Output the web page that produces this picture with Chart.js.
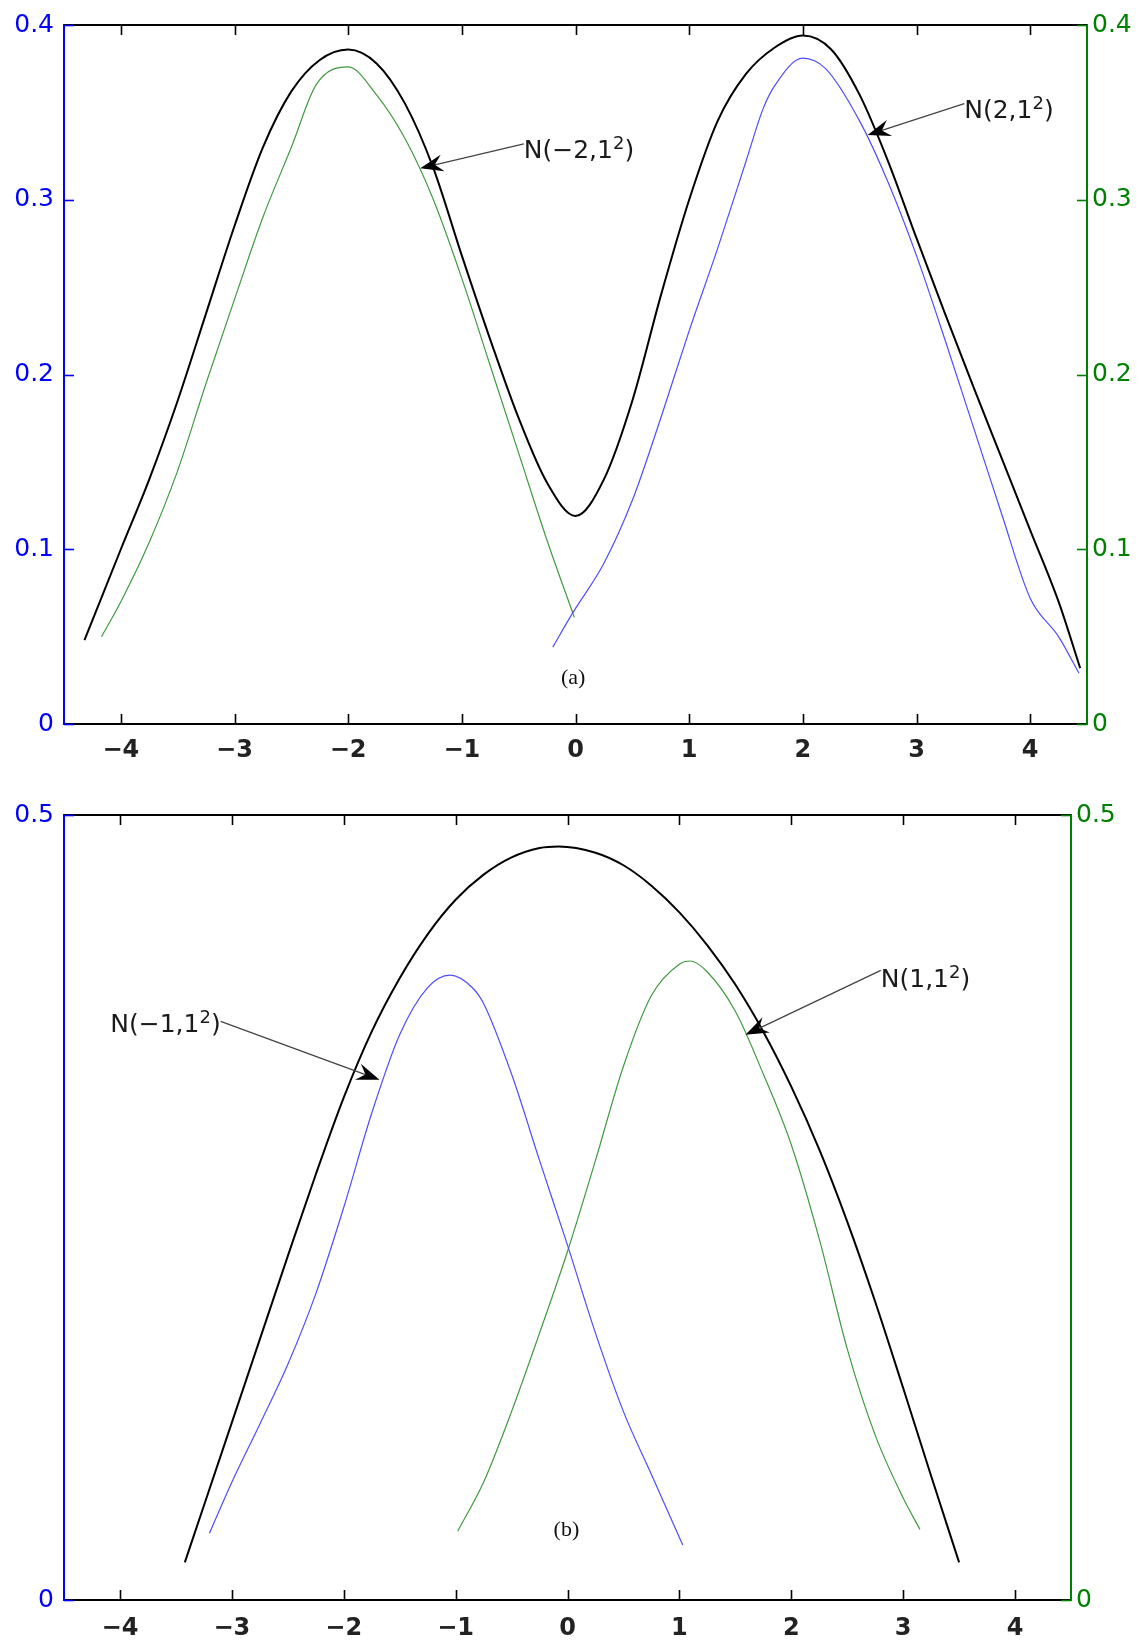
<!DOCTYPE html>
<html>
<head>
<meta charset="utf-8">
<title>Mixture components</title>
<script src="https://cdn.jsdelivr.net/npm/chart.js@4.4.1/dist/chart.umd.min.js"></script>
<style>
  html, body { margin: 0; padding: 0; background: #fff; }
  .panel { position: absolute; left: 0; }
  #panelA { top: 0; }
  #panelB { top: 790px; }
</style>
</head>
<body>
<div class="panel" id="panelA"><canvas id="chartA" width="1147" height="790"></canvas></div>
<div class="panel" id="panelB"><canvas id="chartB" width="1147" height="854"></canvas></div>
<script>
// ─── Data ─────────────────────────────────────────────────────
const X_TICKS = [-4, -3, -2, -1, 0, 1, 2, 3, 4];
const Y_TICKS_A = [0, 0.1, 0.2, 0.3, 0.4];
const Y_TICKS_B = [0, 0.5];

// (a) combined density and the N(-2,1) / N(2,1) components
const A_MIX_X = [-4.32, -4.0, -3.75, -3.5, -3.25, -3.0, -2.75, -2.5, -2.25, -2.0, -1.75, -1.5, -1.25, -1.0, -0.75, -0.5, -0.25, 0,
                 0.25, 0.5, 0.75, 1.0, 1.25, 1.5, 1.75, 2.0, 2.25, 2.5, 2.75, 3.0, 3.25, 3.5, 3.75, 4.0, 4.25, 4.44];
const A_MIX_Y = [0.048, 0.100, 0.140, 0.185, 0.235, 0.285, 0.330, 0.362, 0.380, 0.386, 0.378, 0.355, 0.318, 0.268, 0.220, 0.175, 0.138, 0.119,
                 0.140, 0.185, 0.245, 0.300, 0.345, 0.372, 0.387, 0.394, 0.386, 0.360, 0.322, 0.278, 0.235, 0.193, 0.152, 0.111, 0.070, 0.032];

const A_LEFT_X = [-4.17, -4.0, -3.75, -3.5, -3.25, -3.0, -2.75, -2.5, -2.28, -2.0, -1.75, -1.5, -1.25, -1.0, -0.75, -0.5, -0.25, -0.01];
const A_LEFT_Y = [0.050, 0.070, 0.104, 0.145, 0.195, 0.243, 0.290, 0.330, 0.366, 0.376, 0.360, 0.335, 0.300, 0.255, 0.205, 0.155, 0.105, 0.061];

const A_RIGHT_X = [-0.2, -0.03, 0.25, 0.5, 0.75, 1.0, 1.25, 1.5, 1.65, 1.75, 2.0, 2.2, 2.5, 2.75, 3.0, 3.25, 3.5, 3.75, 4.0, 4.25, 4.43];
const A_RIGHT_Y = [0.044, 0.063, 0.092, 0.128, 0.175, 0.225, 0.272, 0.322, 0.352, 0.365, 0.381, 0.375, 0.345, 0.310, 0.268, 0.220, 0.170, 0.120, 0.072, 0.050, 0.029];

// (b) combined density and the N(-1,1) / N(1,1) components
const B_MIX_X = [-3.42, -3.25, -3.0, -2.75, -2.5, -2.25, -2.0, -1.75, -1.5, -1.25, -1.0, -0.75, -0.5, -0.25, -0.08,
                 0.25, 0.5, 0.75, 1.0, 1.25, 1.5, 1.75, 2.0, 2.25, 2.5, 2.75, 3.0, 3.25, 3.5];
const B_MIX_Y = [0.024, 0.060, 0.113, 0.166, 0.219, 0.271, 0.320, 0.362, 0.396, 0.424, 0.446, 0.462, 0.473, 0.479, 0.480,
                 0.476, 0.468, 0.455, 0.438, 0.417, 0.392, 0.362, 0.327, 0.287, 0.241, 0.190, 0.135, 0.079, 0.024];

const B_LEFT_X = [-3.2, -3.0, -2.75, -2.5, -2.25, -2.0, -1.75, -1.5, -1.25, -1.05, -0.85, -0.75, -0.5, -0.25, 0, 0.25, 0.5, 0.75, 1.03];
const B_LEFT_Y = [0.0425, 0.075, 0.112, 0.150, 0.195, 0.250, 0.310, 0.360, 0.390, 0.398, 0.390, 0.380, 0.335, 0.280, 0.226, 0.170, 0.120, 0.080, 0.035];

const B_RIGHT_X = [-0.98, -0.75, -0.5, -0.25, 0, 0.25, 0.5, 0.75, 1.0, 1.1, 1.25, 1.5, 1.75, 2.0, 2.25, 2.5, 2.75, 3.0, 3.15];
const B_RIGHT_Y = [0.044, 0.075, 0.120, 0.170, 0.222, 0.280, 0.340, 0.385, 0.405, 0.407, 0.400, 0.375, 0.335, 0.290, 0.230, 0.160, 0.105, 0.065, 0.045];

// ─── Styling ─────────────────────────────────────────────────
const AXIS_BLUE = '#0000ff';
const AXIS_GREEN = '#008000';
const LINE_BLUE = '#4d4dff';
const LINE_GREEN = '#419a41';
const SANS = '"DejaVu Sans", sans-serif';

const pts = (xs, ys) => xs.map((x, i) => ({ x, y: ys[i] }));
const fmtTick = v => (v < 0 ? '\u2212' + Math.abs(v) : String(v));
const fixedTicks = values => scale => { scale.ticks = values.map(v => ({ value: v })); };

// box edge, inward ticks on all four sides
const framePlugin = {
  id: 'frame',
  afterDraw(chart) {
    const { ctx, chartArea: a, scales } = chart;
    const T = 10;
    ctx.save();
    ctx.lineWidth = 2;
    ctx.strokeStyle = '#000';
    ctx.beginPath();
    ctx.moveTo(a.left, a.top);
    ctx.lineTo(a.right, a.top);
    ctx.stroke();
    ctx.lineWidth = 1.6;
    scales.x.ticks.forEach(t => {
      const px = Math.round(scales.x.getPixelForValue(t.value)) + 0.5;
      ctx.beginPath();
      ctx.moveTo(px, a.bottom); ctx.lineTo(px, a.bottom - T);
      ctx.moveTo(px, a.top); ctx.lineTo(px, a.top + T);
      ctx.stroke();
    });
    ctx.strokeStyle = AXIS_BLUE;
    scales.y.ticks.forEach(t => {
      const py = Math.round(scales.y.getPixelForValue(t.value)) + 0.5;
      ctx.beginPath(); ctx.moveTo(a.left, py); ctx.lineTo(a.left + T, py); ctx.stroke();
    });
    ctx.strokeStyle = AXIS_GREEN;
    scales.y1.ticks.forEach(t => {
      const py = Math.round(scales.y1.getPixelForValue(t.value)) + 0.5;
      ctx.beginPath(); ctx.moveTo(a.right, py); ctx.lineTo(a.right - T, py); ctx.stroke();
    });
    ctx.restore();
  }
};

// arrow callouts "N(m,1²)" and the panel caption
function drawArrow(ctx, x0, y0, x1, y1) {
  const ang = Math.atan2(y1 - y0, x1 - x0);
  const len = 23, half = 8.5, notch = 15;
  ctx.strokeStyle = '#444';
  ctx.lineWidth = 1.3;
  ctx.beginPath();
  ctx.moveTo(x0, y0);
  ctx.lineTo(x1 - Math.cos(ang) * notch, y1 - Math.sin(ang) * notch);
  ctx.stroke();
  ctx.save();
  ctx.translate(x1, y1);
  ctx.rotate(ang);
  ctx.beginPath();
  ctx.moveTo(0, 0);
  ctx.lineTo(-len, -half);
  ctx.lineTo(-notch, 0);
  ctx.lineTo(-len, half);
  ctx.closePath();
  ctx.fillStyle = '#000';
  ctx.fill();
  ctx.restore();
}

function drawLabel(ctx, n, tx, ty) {
  const mainFont = '25px ' + SANS, supFont = '18px ' + SANS;
  ctx.font = mainFont;
  const w1 = ctx.measureText(n.text).width;
  const w3 = ctx.measureText(')').width;
  ctx.font = supFont;
  const w2 = ctx.measureText(n.sup).width;
  let left = n.align === 'right' ? tx - (w1 + w2 + w3) : tx;
  const base = ty + n.dy + 9;
  ctx.fillStyle = '#1a1a1a';
  ctx.textAlign = 'left';
  ctx.textBaseline = 'alphabetic';
  ctx.font = mainFont;
  ctx.fillText(n.text, left, base);
  ctx.font = supFont;
  ctx.fillText(n.sup, left + w1, base - 9);
  ctx.font = mainFont;
  ctx.fillText(')', left + w1 + w2, base);
}

const notesPlugin = {
  id: 'notes',
  afterDatasetsDraw(chart, args, opts) {
    const { ctx, scales: { x, y } } = chart;
    ctx.save();
    (opts.arrows || []).forEach(n => {
      const tx = x.getPixelForValue(n.tail[0]), ty = y.getPixelForValue(n.tail[1]);
      const hx = x.getPixelForValue(n.tip[0]), hy = y.getPixelForValue(n.tip[1]);
      drawArrow(ctx, tx, ty, hx, hy);
      drawLabel(ctx, n, tx, ty);
    });
    if (opts.caption) {
      const c = opts.caption;
      ctx.font = '22px "Liberation Serif", serif';
      ctx.fillStyle = '#111';
      ctx.textAlign = 'center';
      ctx.textBaseline = 'middle';
      ctx.fillText(c.text, x.getPixelForValue(c.at[0]), y.getPixelForValue(c.at[1]));
    }
    ctx.restore();
  }
};

function buildPanel(id, o) {
  const lineStyle = { showLine: true, pointRadius: 0, fill: false, cubicInterpolationMode: 'monotone' };
  return new Chart(document.getElementById(id), {
    type: 'scatter',
    data: {
      datasets: [
        { ...lineStyle, data: pts(o.mixX, o.mixY), borderColor: '#000', borderWidth: 2, yAxisID: 'y' },
        { ...lineStyle, data: pts(o.blueX, o.blueY), borderColor: LINE_BLUE, borderWidth: 1.2, yAxisID: 'y' },
        { ...lineStyle, data: pts(o.greenX, o.greenY), borderColor: LINE_GREEN, borderWidth: 1.2, yAxisID: 'y1' }
      ]
    },
    options: {
      responsive: false,
      animation: false,
      events: [],
      layout: { padding: { top: o.padTop, left: 0, right: 0, bottom: 0 } },
      plugins: {
        legend: { display: false },
        tooltip: { enabled: false },
        notes: { arrows: o.arrows, caption: o.caption }
      },
      scales: {
        x: {
          type: 'linear', min: -4.5, max: 4.5,
          afterBuildTicks: fixedTicks(X_TICKS),
          afterFit: s => { s.height = o.xHeight; },
          grid: { display: false, drawTicks: false },
          border: { color: '#000', width: 2 },
          ticks: {
            color: '#222', padding: o.xPad, autoSkip: false, maxRotation: 0,
            font: { family: SANS, size: 24, weight: 'bold' },
            callback: fmtTick
          }
        },
        y: {
          position: 'left', min: 0, max: o.yMax,
          afterBuildTicks: fixedTicks(o.yTicks),
          afterFit: s => { s.width = 64; },
          grid: { display: false, drawTicks: false },
          border: { color: AXIS_BLUE, width: 2 },
          ticks: { color: AXIS_BLUE, padding: 10, font: { family: SANS, size: 25 }, callback: v => String(v) }
        },
        y1: {
          position: 'right', min: 0, max: o.yMax,
          afterBuildTicks: fixedTicks(o.yTicks),
          afterFit: s => { s.width = o.rightWidth; },
          grid: { display: false, drawTicks: false },
          border: { color: AXIS_GREEN, width: 2 },
          ticks: { color: AXIS_GREEN, padding: 5, font: { family: SANS, size: 25 }, callback: v => String(v) }
        }
      }
    },
    plugins: [framePlugin, notesPlugin]
  });
}

buildPanel('chartA', {
  mixX: A_MIX_X, mixY: A_MIX_Y,
  blueX: A_RIGHT_X, blueY: A_RIGHT_Y,
  greenX: A_LEFT_X, greenY: A_LEFT_Y,
  yMax: 0.4, yTicks: Y_TICKS_A,
  padTop: 19, xHeight: 66, xPad: 12, rightWidth: 60,
  arrows: [
    { text: 'N(\u22122,1', sup: '2', tail: [-0.455, 0.332], tip: [-1.366, 0.318], align: 'left', dy: 5 },
    { text: 'N(2,1', sup: '2', tail: [3.42, 0.355], tip: [2.57, 0.337], align: 'left', dy: 5 }
  ],
  caption: { text: '(a)', at: [-0.02, 0.026] }
});

buildPanel('chartB', {
  mixX: B_MIX_X, mixY: B_MIX_Y,
  blueX: B_LEFT_X, blueY: B_LEFT_Y,
  greenX: B_RIGHT_X, greenY: B_RIGHT_Y,
  yMax: 0.5, yTicks: Y_TICKS_B,
  padTop: 23, xHeight: 44, xPad: 14, rightWidth: 76,
  arrows: [
    { text: 'N(\u22121,1', sup: '2', tail: [-3.10, 0.3685], tip: [-1.68, 0.3314], align: 'right', dy: 2 },
    { text: 'N(1,1', sup: '2', tail: [2.80, 0.401], tip: [1.59, 0.36], align: 'left', dy: 8 }
  ],
  caption: { text: '(b)', at: [-0.01, 0.0445] }
});
</script>
</body>
</html>
